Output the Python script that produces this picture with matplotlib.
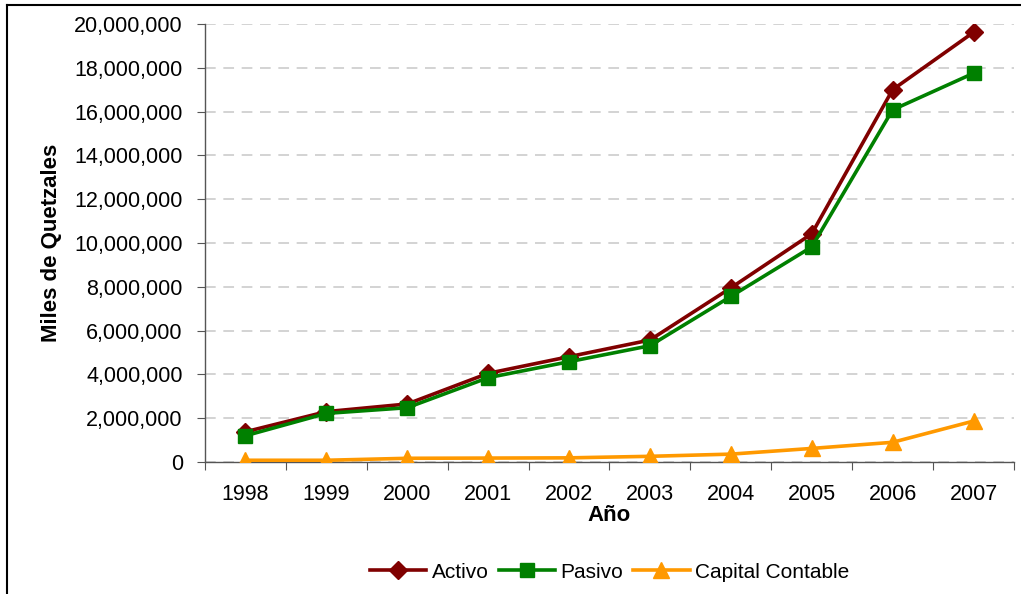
import matplotlib
matplotlib.use("Agg")
import matplotlib.pyplot as plt
from matplotlib.lines import Line2D
from matplotlib.ticker import FuncFormatter, MultipleLocator

plt.rcParams['font.family'] = ['Liberation Sans', 'DejaVu Sans']

years = ['1998', '1999', '2000', '2001', '2002', '2003', '2004', '2005', '2006', '2007']
activo = [1380000, 2300000, 2650000, 4050000, 4810000, 5570000, 7950000, 10420000, 17000000, 19620000]
pasivo = [1200000, 2220000, 2480000, 3850000, 4580000, 5310000, 7560000, 9820000, 16080000, 17750000]
capital = [80000, 80000, 170000, 180000, 190000, 260000, 360000, 620000, 900000, 1870000]

fig = plt.figure(figsize=(10.21, 5.94), dpi=100)
ax = fig.add_axes([0.2008, 0.2222, 0.7923, 0.7374])

x = list(range(len(years)))
ax.plot(x, activo, color='#800000', lw=2.6, marker='D', ms=9.5, label='Activo', zorder=3)
ax.plot(x, pasivo, color='#008000', lw=2.6, marker='s', ms=10, label='Pasivo', zorder=4)
ax.plot(x, capital, color='#FF9900', lw=2.6, marker='^', ms=12, label='Capital Contable', zorder=5)

ax.set_xlim(-0.5, len(years) - 0.5)
ax.set_ylim(0, 20000000)
ax.yaxis.set_major_locator(MultipleLocator(2000000))
ax.yaxis.set_major_formatter(FuncFormatter(lambda v, p: f'{int(v):,}'))

# category labels centred, tick marks on category boundaries
ax.set_xticks([i - 0.5 for i in range(len(years) + 1)])
ax.set_xticklabels([])
ax.set_xticks(x, minor=True)
ax.set_xticklabels(years, minor=True)
ax.tick_params(axis='x', which='minor', length=0, labelsize=15.5, pad=16)
ax.tick_params(axis='x', which='major', length=6, direction='out', color='#555555')
ax.tick_params(axis='y', length=6, direction='out', labelsize=15.5, pad=10, color='#555555')

ax.grid(axis='y', color='#c8c8c8', linestyle=(0, (7, 5)), lw=1.1)
ax.set_axisbelow(True)
for side in ('top', 'right'):
    ax.spines[side].set_visible(False)
for side in ('left', 'bottom'):
    ax.spines[side].set_color('#555555')
    ax.spines[side].set_linewidth(1.0)

ax.set_xlabel('Año', fontsize=16, fontweight='bold', labelpad=0)
ax.set_ylabel('Miles de Quetzales', fontsize=16, fontweight='bold', labelpad=9)

fig.legend(loc='center', bbox_to_anchor=(0.597, 0.037), ncol=3, frameon=False,
           fontsize=15, handlelength=2.7, columnspacing=0.5, handletextpad=0.25)

# outer chart border
fig.add_artist(Line2D([0.0071, 0.0071], [0.0, 0.9916], transform=fig.transFigure, color='black', lw=1.5))
fig.add_artist(Line2D([0.0071, 1.0], [0.9916, 0.9916], transform=fig.transFigure, color='black', lw=1.5))

fig.savefig('out.png', dpi=100)
